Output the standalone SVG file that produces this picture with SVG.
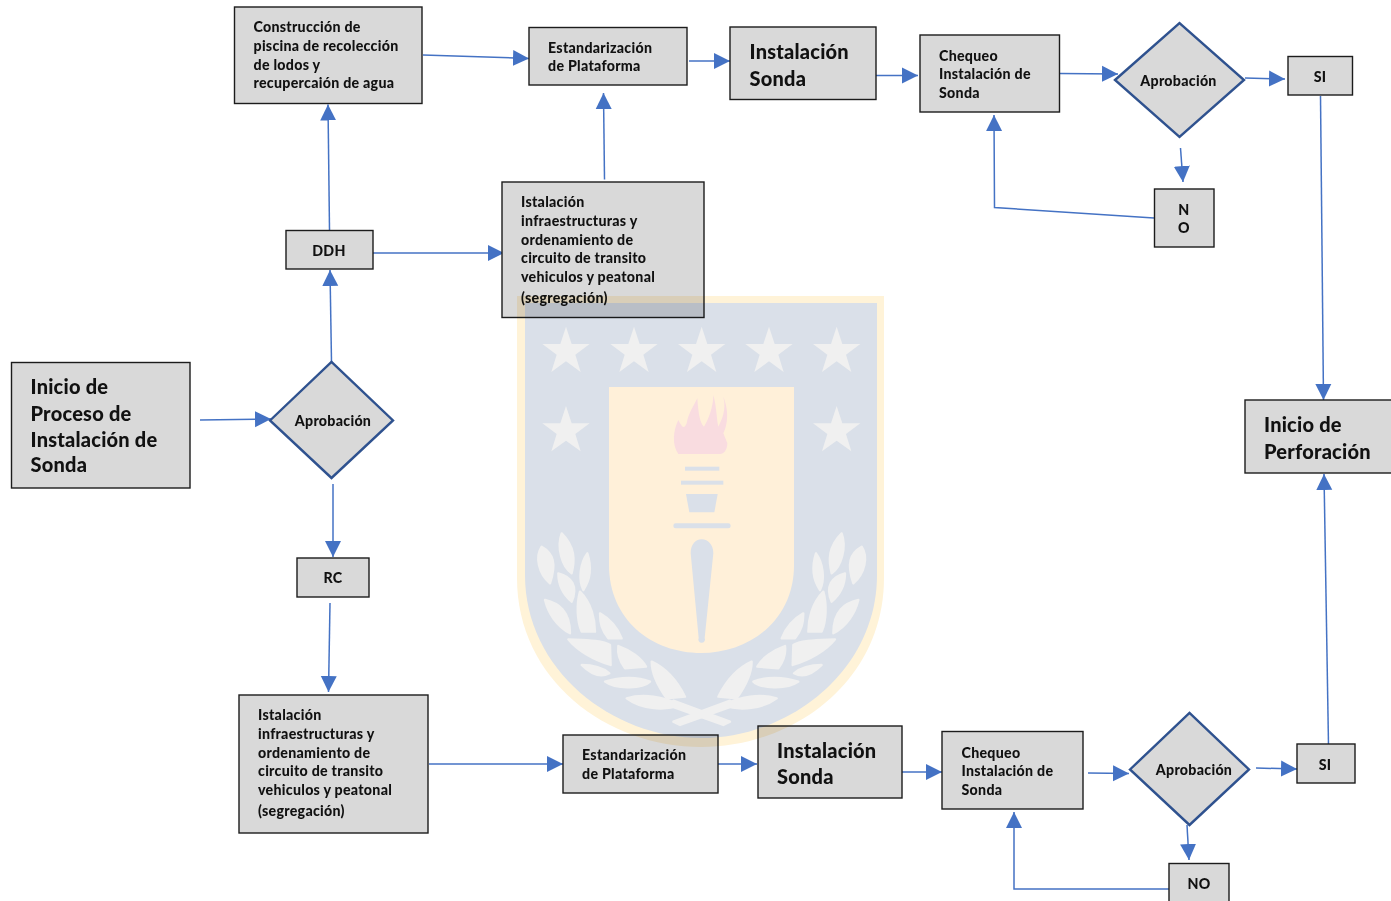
<svg xmlns="http://www.w3.org/2000/svg" xmlns:xlink="http://www.w3.org/1999/xlink" width="1391" height="901" viewBox="0 0 1391 901">
<style>
.box{fill:#d9d9d9;stroke:#1c1c1c;stroke-width:1.4}
.dia{fill:#d9d9d9;stroke:#2f528f;stroke-width:2.4}
text{font-family:"Lato","Liberation Sans",sans-serif;font-weight:900;fill:#111;font-size:14.200px;letter-spacing:.28px}
.lg{font-size:20px;letter-spacing:.22px}
.mid{text-anchor:middle}
.c line,.c polyline{fill:none;stroke:#4472c4;stroke-width:1.5;marker-end:url(#ah)}
.lf{fill:#f0f0f0;stroke:#f0f0f0;stroke-width:7;stroke-linejoin:round}
.st{fill:#f0f0f0}
</style>
<defs>
<marker id="ah" markerUnits="userSpaceOnUse" markerWidth="17" markerHeight="17" refX="16" refY="8.500" orient="auto">
<path d="M0 0.500L16 8.500L0 16.500Z" fill="#4472c4"/>
</marker>
<polygon id="st" class="st" points="0,-75 17,-23 71,-23 28,9 44,61 0,29 -44,61 -28,9 -71,-23 -17,-23"/>
<g id="laurel" class="lf">
<path d="M185 760C225 800 225 840 215 880C185 860 170 800 185 760Z"/>
<path d="M125 800C160 820 170 850 150 910C115 880 105 830 125 800Z"/>
<path d="M262 820C275 860 270 900 250 930C235 900 240 850 262 820Z"/>
<path d="M175 880C215 890 235 920 215 965C185 940 175 910 175 880Z"/>
<path d="M240 935C275 970 285 1020 285 1055L245 1055C230 1020 230 970 240 935Z"/>
<path d="M135 960C175 970 210 990 210 1060C170 1040 145 1000 135 960Z"/>
<path d="M300 1000C335 1020 355 1050 365 1075L325 1075C305 1050 300 1030 300 1000Z"/>
<path d="M205 1078C250 1080 310 1080 330 1095L332 1155C280 1140 230 1110 205 1078Z"/>
<path d="M355 1098C390 1110 425 1135 438 1160L375 1165C360 1145 352 1120 355 1098Z"/>
<path d="M245 1155C280 1155 310 1165 328 1180C300 1195 270 1180 245 1155Z"/>
<path d="M315 1205C360 1190 415 1190 450 1205C430 1225 350 1230 315 1205Z"/>
<path d="M455 1145C510 1170 540 1220 555 1250L500 1255C475 1220 455 1180 455 1145Z"/>
<path d="M380 1255C430 1240 490 1250 540 1275C490 1295 420 1285 380 1255Z"/>
<path d="M520 1325L690 1262L700 1278L540 1335Z"/>
</g>
</defs>
<rect width="1391" height="901" fill="#fff"/>

<g id="connectors" class="c">
<line x1="200" y1="420" x2="271" y2="419"/>
<line x1="331.500" y1="362" x2="330" y2="270"/>
<line x1="329.500" y1="230" x2="328" y2="104.500"/>
<line x1="373" y1="253" x2="504" y2="253"/>
<line x1="423" y1="55" x2="529" y2="58.500"/>
<line x1="604.500" y1="179.500" x2="603.500" y2="93"/>
<line x1="689" y1="61" x2="730" y2="61"/>
<line x1="876" y1="75.500" x2="918" y2="75.500"/>
<line x1="1060" y1="73.500" x2="1118" y2="74"/>
<line x1="1245" y1="78" x2="1285" y2="79"/>
<line x1="1180.500" y1="148" x2="1183" y2="182"/>
<polyline points="1154,218 994.500,207.500 994,115"/>
<line x1="1320.500" y1="96" x2="1323.500" y2="400"/>
<line x1="1328.500" y1="745" x2="1324" y2="474"/>
<line x1="333" y1="484" x2="333" y2="557"/>
<line x1="330" y1="603" x2="328.500" y2="692"/>
<line x1="429" y1="764" x2="563" y2="764"/>
<line x1="716" y1="764" x2="757" y2="764"/>
<line x1="901" y1="772" x2="942" y2="772"/>
<line x1="1088" y1="773" x2="1129" y2="773.500"/>
<line x1="1256" y1="768" x2="1297" y2="769"/>
<line x1="1187" y1="825" x2="1189" y2="860"/>
<polyline points="1169,889 1014,889 1014,812"/>
</g>

<g id="n-construccion"><rect class="box" x="234.500" y="7" width="187.500" height="96.500"/><text x="253.500" y="32">Construcción de</text><text x="253.500" y="51">piscina de recolección</text><text x="253.500" y="70">de lodos y</text><text x="253.500" y="88">recupercaión de agua</text></g>
<g id="n-estand1"><rect class="box" x="529" y="27.500" width="158" height="57.500"/><text x="548" y="53">Estandarización</text><text x="548" y="71">de Plataforma</text></g>
<g id="n-sonda1"><rect class="box" x="730" y="27" width="146" height="72.500"/><text class="lg" x="749.500" y="58.500">Instalación</text><text class="lg" x="749.500" y="85.500">Sonda</text></g>
<g id="n-chequeo1"><rect class="box" x="920" y="35" width="139.500" height="77"/><text x="939" y="61">Chequeo</text><text x="939" y="79">Instalación de</text><text x="939" y="98">Sonda</text></g>
<g id="n-aprob1"><polygon class="dia" points="1115,80 1179.500,23 1244,80 1179.500,137"/><text class="mid" x="1178.500" y="86">Aprobación</text></g>
<g id="n-si1"><rect class="box" x="1288" y="56.500" width="64.500" height="38.500"/><text class="mid" x="1320" y="82">SI</text></g>
<g id="n-no1"><rect class="box" x="1154.500" y="189" width="59.500" height="58"/><text class="mid" x="1184" y="215">N</text><text class="mid" x="1184" y="233">O</text></g>
<g id="n-ddh"><rect class="box" x="286" y="230.500" width="87" height="38.500"/><text class="mid" x="329" y="256">DDH</text></g>
<g id="n-istal1"><rect class="box" x="502" y="182" width="202" height="135.500"/><text x="521" y="207">Istalación</text><text x="521" y="226">infraestructuras y</text><text x="521" y="245">ordenamiento de</text><text x="521" y="263">circuito de transito</text><text x="521" y="282">vehiculos y peatonal</text><text x="521" y="303">(segregación)</text></g>
<g id="n-inicio"><rect class="box" x="11.500" y="362.500" width="178.500" height="125.500"/><text class="lg" x="30.500" y="393.500">Inicio de</text><text class="lg" x="30.500" y="420.500">Proceso de</text><text class="lg" x="30.500" y="446.500">Instalación de</text><text class="lg" x="30.500" y="471.500">Sonda</text></g>
<g id="n-aprob2"><polygon class="dia" points="270,420.500 331.500,362 393,420.500 331.500,478"/><text class="mid" x="333" y="426">Aprobación</text></g>
<g id="n-rc"><rect class="box" x="297" y="558" width="72" height="39"/><text class="mid" x="333" y="583">RC</text></g>
<g id="n-istal2"><rect class="box" x="239" y="695" width="189" height="138"/><text x="258" y="720">Istalación</text><text x="258" y="739">infraestructuras y</text><text x="258" y="758">ordenamiento de</text><text x="258" y="776">circuito de transito</text><text x="258" y="795">vehiculos y peatonal</text><text x="258" y="816">(segregación)</text></g>
<g id="n-estand2"><rect class="box" x="563" y="735" width="155" height="58"/><text x="582" y="760">Estandarización</text><text x="582" y="779">de Plataforma</text></g>
<g id="n-sonda2"><rect class="box" x="758" y="726" width="144" height="72"/><text class="lg" x="777" y="757.500">Instalación</text><text class="lg" x="777" y="783.500">Sonda</text></g>
<g id="n-chequeo2"><rect class="box" x="942" y="731.500" width="141" height="77.500"/><text x="961.500" y="758">Chequeo</text><text x="961.500" y="776">Instalación de</text><text x="961.500" y="795">Sonda</text></g>
<g id="n-aprob3"><polygon class="dia" points="1130,769.500 1189.500,713 1249,769.500 1189.500,825"/><text class="mid" x="1194" y="775">Aprobación</text></g>
<g id="n-si2"><rect class="box" x="1297" y="744" width="58" height="39"/><text class="mid" x="1325" y="770">SI</text></g>
<g id="n-no2"><rect class="box" x="1169" y="863.500" width="60" height="45"/><text class="mid" x="1199" y="889">NO</text></g>
<g id="n-perforacion"><rect class="box" x="1245" y="400" width="156" height="73"/><text class="lg" x="1264" y="431.500">Inicio de</text><text class="lg" x="1264" y="458.500">Perforación</text></g>

<g id="watermark" style="mix-blend-mode:multiply">
<path fill="#fff3d8" d="M517 296H884V578C884 680 795 747 701 747C607 747 517 680 517 578Z"/>
<path fill="#dae0e9" d="M525 303H877V575C877 670 790 738 701 738C612 738 525 670 525 575Z"/>
<path fill="#fff0d9" d="M609 387H794V565C794 620 750 653 701 653C652 653 609 620 609 565Z"/>
<g transform="translate(500 280) scale(.33333)">
<use href="#st" x="198" y="215"/><use href="#st" x="402" y="215"/><use href="#st" x="605" y="215"/><use href="#st" x="807" y="215"/><use href="#st" x="1010" y="215"/>
<use href="#st" x="198" y="453"/><use href="#st" x="1010" y="453"/>
<path fill="#f9dce0" d="M535 522C515 495 520 450 535 420C545 440 552 450 560 430C565 400 580 380 592 355C595 400 600 430 612 440C625 420 640 380 640 345C650 380 650 420 655 440C665 420 680 390 670 350C690 400 680 440 670 460L682 490C682 510 672 522 660 522Z"/>
<g fill="#dae0e9">
<rect x="555" y="560" width="103" height="12"/>
<rect x="543" y="602" width="127" height="12"/>
<polygon points="558,642 653,642 643,697 568,697"/>
<rect x="520" y="730" width="172" height="15" rx="7"/>
<path d="M605 778C625 778 640 795 640 820L614 1074A10 10 0 1 1 596 1074L572 820C572 795 585 778 605 778Z"/>
</g>
<use href="#laurel"/>
<use href="#laurel" transform="translate(1210 0) scale(-1 1)"/>
</g>
</g>
</svg>
